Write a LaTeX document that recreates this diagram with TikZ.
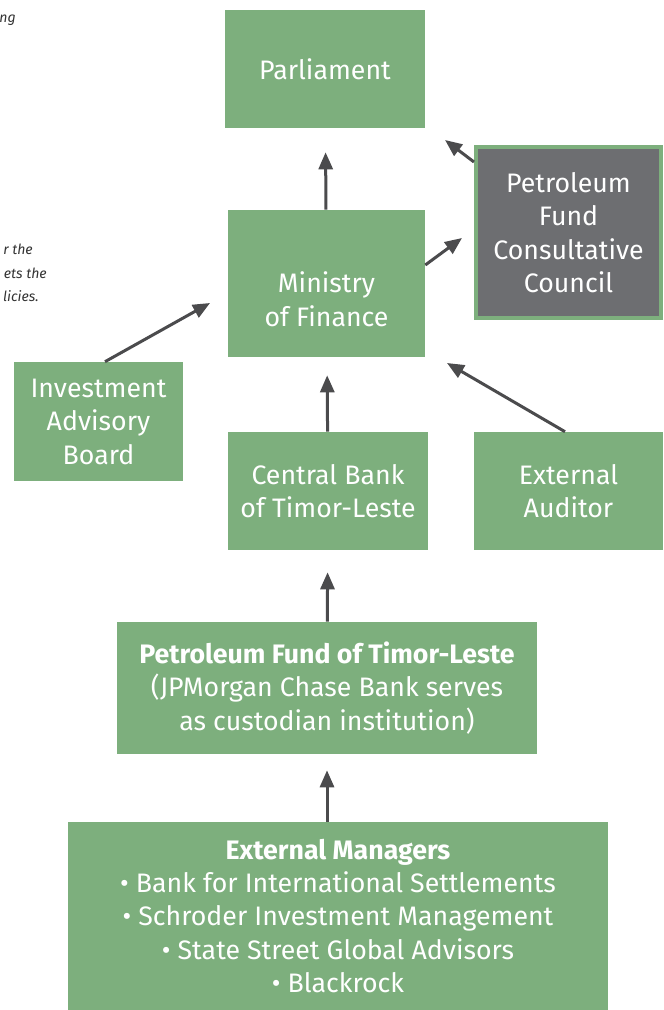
\documentclass[tikz,border=0pt]{standalone}
\usepackage{fontspec}
\setmainfont{Fira Sans}
\usepackage{tikz}
\usetikzlibrary{arrows.meta, positioning}

\definecolor{boxgreen}{HTML}{7DAF7D}
\definecolor{boxgrey}{HTML}{6D6E71}
\definecolor{arrowgrey}{HTML}{4B4B4D}
\definecolor{notegrey}{HTML}{333333}

\begin{document}
\begin{tikzpicture}[
  x=0.025cm, y=-0.025cm,
  font=\fontsize{19}{23.8}\selectfont,
  organe/.style={
    fill=boxgreen,
    text=white,
    align=center,
    inner sep=2pt
  },
  conseil/.style={
    organe,
    fill=boxgrey,
    draw=boxgreen,
    line width=0.1cm
  },
  fleche/.style={
    -{Triangle[length=0.425cm, width=0.35cm]},
    line width=0.075cm,
    draw=arrowgrey
  },
  note/.style={
    font=\fontsize{10}{12}\selectfont\itshape,
    text=notegrey,
    anchor=base east,
    inner sep=0pt
  }
]
  \useasboundingbox (0,0) rectangle (663,1010);

  \node[organe, minimum width=5cm, minimum height=2.95cm] (parl) at (325,69) {Parliament};
  \node[organe, minimum width=4.925cm, minimum height=3.675cm] (mof) at (326.5,283.5) {\rule{0pt}{1.3cm}Ministry\\of Finance};
  \node[conseil, minimum width=4.625cm, minimum height=4.275cm] (pfcc) at (568.5,232.5) {Petroleum\\Fund\\Consultative\\Council};
  \node[organe, minimum width=4.225cm, minimum height=2.975cm] (iab) at (98.5,421.5) {Investment\\Advisory\\Board};
  \node[organe, minimum width=5cm, minimum height=2.95cm] (cb) at (328,491) {Central Bank\\of Timor-Leste};
  \node[organe, minimum width=4.725cm, minimum height=2.95cm] (ea) at (568.5,491) {External\\Auditor};
  \node[organe, minimum width=10.5cm, minimum height=3.3cm] (pf) at (327,688)
    {\textbf{Petroleum Fund of Timor-Leste}\\(JPMorgan Chase Bank serves\\as custodian institution)};
  \node[organe, minimum width=13.5cm, minimum height=4.7cm] (em) at (338,916)
    {\textbf{External Managers}\\\textbullet\ Bank for International Settlements\\\textbullet\ Schroder Investment Management\\\textbullet\ State Street Global Advisors\\\textbullet\ Blackrock};

  \node[note] (n1) at (16,23) {ng};
  \node[note] (n2) at (33,255) {r the};
  \node[note] (n3) at (47,279) {ets the};
  \node[note] (n4) at (39,302) {licies.};

  \coordinate (tparl) at (445,140);
  \coordinate (tpfcc) at (462,238);
  \coordinate (tmofw) at (210,303);
  \coordinate (tmofe) at (447,363);

  \draw[fleche, shorten >=0.6cm] (mof) -- (parl);
  \draw[fleche] (pfcc.west |- 0,162) -- (tparl);
  \draw[fleche] (mof.east |- 0,265) -- (tpfcc);
  \draw[fleche] (iab.north -| 105,0) -- (tmofw);
  \draw[fleche, shorten >=0.45cm] (cb) -- (mof);
  \draw[fleche] (ea.north -| 565,0) -- (tmofe);
  \draw[fleche, shorten >=0.55cm] (pf) -- (cb);
  \draw[fleche, shorten >=0.4cm] (em.north -| pf.south) -- (pf);
\end{tikzpicture}
\end{document}
